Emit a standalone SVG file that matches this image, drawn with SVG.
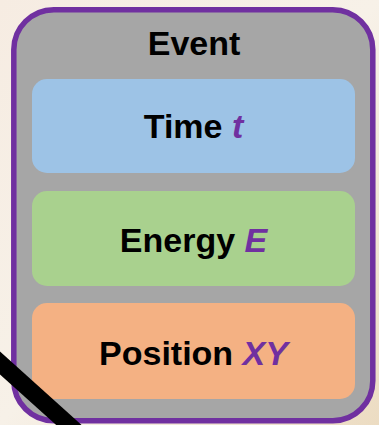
<svg xmlns="http://www.w3.org/2000/svg" width="379" height="425" viewBox="0 0 379 425">
  <defs>
    <linearGradient id="bg" x1="0" y1="0" x2="1" y2="1">
      <stop offset="0" stop-color="#f6ece2"/>
      <stop offset="0.5" stop-color="#f7f1e8"/>
      <stop offset="1" stop-color="#ecdcc2"/>
    </linearGradient>
  </defs>
  <style>
    .lbl { font-family: "Liberation Sans", Arial, sans-serif; font-weight: bold; font-size: 34px; fill: #000; text-anchor: middle; }
    .var { font-style: italic; fill: #7030a0; }
    .field { rx: 15px; ry: 15px; }
  </style>
  <rect x="0" y="0" width="379" height="425" fill="url(#bg)"/>
  <g id="event">
    <rect x="13.8" y="9.7" width="359" height="411" rx="40" ry="40" fill="#a6a6a6" stroke="#7030a0" stroke-width="5.5"/>
    <text class="lbl" x="194" y="55">Event</text>
  </g>
  <g id="time">
    <rect class="field" x="32" y="79" width="323" height="94" fill="#9dc3e6"/>
    <text class="lbl" x="193.5" y="138">Time <tspan class="var">t</tspan></text>
  </g>
  <g id="energy">
    <rect class="field" x="32" y="191" width="323" height="95" fill="#a9d18e"/>
    <text class="lbl" x="193.5" y="251.5">Energy <tspan class="var">E</tspan></text>
  </g>
  <g id="position">
    <rect class="field" x="32" y="303" width="323" height="96" fill="#f4b183"/>
    <text class="lbl" x="193.5" y="365">Position <tspan class="var">XY</tspan></text>
  </g>
  <line x1="-10" y1="354" x2="90" y2="444" stroke="#000" stroke-width="17"/>
</svg>
